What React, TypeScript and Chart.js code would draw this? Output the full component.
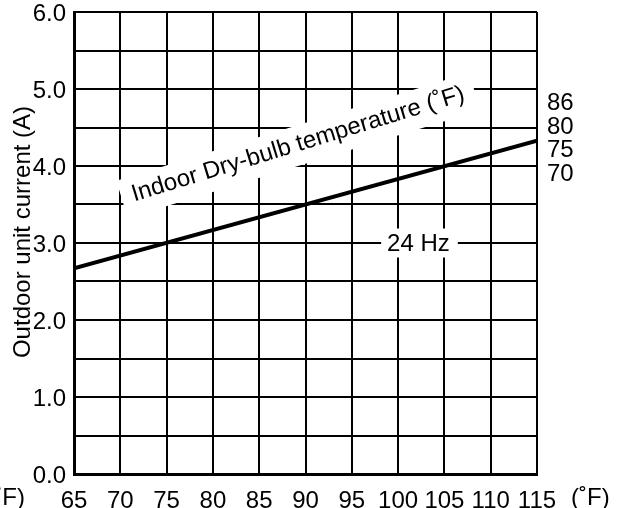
import React, { useEffect, useRef } from 'react';
import { Chart, registerables } from 'chart.js';

Chart.register(...registerables);

// Data
const outdoorTempF = [65, 115];
const outdoorCurrentA = [2.67, 4.33];
const xMin = 65;
const xMax = 115;
const xStep = 5;
const yMin = 0;
const yMax = 6;
const yStep = 0.5;
const indoorTempLabels = ['86', '80', '75', '70'];
const indoorTempLabelValues = [4.82, 4.52, 4.21, 3.91];
const frequencyLabel = '24 Hz';
const frequencyLabelAt = [102.2, 3.0];
const curveTitle = 'Indoor Dry-bulb temperature (\u02DAF)';
const curveTitleAt = [89.2, 4.28];
const yTitle = 'Outdoor unit current (A)';
const unitLabel = '(\u02DAF)';

const FONT = '"Liberation Sans", Arial, Helvetica, sans-serif';
const FS = 24;

const annotations = {
  id: 'annotations',
  afterDatasetsDraw(chart: any) {
    const { ctx, chartArea, scales } = chart;
    const xs = scales.x;
    const ys = scales.y;
    ctx.save();
    ctx.font = `${FS}px ${FONT}`;
    ctx.fillStyle = '#000';

    // rotated curve title with white box
    {
      const cx = xs.getPixelForValue(curveTitleAt[0]);
      const cy = ys.getPixelForValue(curveTitleAt[1]);
      const ang = (-17 * Math.PI) / 180;
      ctx.save();
      ctx.translate(cx, cy);
      ctx.rotate(ang);
      const w = ctx.measureText(curveTitle).width;
      ctx.fillStyle = '#fff';
      ctx.fillRect(-w / 2 - 11, -18.5, w + 22, 39);
      ctx.fillStyle = '#000';
      ctx.textAlign = 'center';
      ctx.textBaseline = 'middle';
      ctx.fillText(curveTitle, 0, 0);
      ctx.restore();
    }

    // 24 Hz label
    {
      const cx = xs.getPixelForValue(frequencyLabelAt[0]);
      const cy = ys.getPixelForValue(frequencyLabelAt[1]);
      const w = ctx.measureText(frequencyLabel).width;
      ctx.fillStyle = '#fff';
      ctx.fillRect(cx - w / 2 - 6, cy - 14.5, w + 14, 29);
      ctx.fillStyle = '#000';
      ctx.textAlign = 'center';
      ctx.textBaseline = 'middle';
      ctx.fillText(frequencyLabel, cx, cy + 1);
    }

    // right side indoor temperature labels
    ctx.textAlign = 'left';
    ctx.textBaseline = 'middle';
    indoorTempLabels.forEach((t, i) => {
      ctx.fillText(t, chartArea.right + 10, ys.getPixelForValue(indoorTempLabelValues[i]) + 1);
    });

    // unit labels
    const unitY = chartArea.bottom + 24;
    ctx.fillText(unitLabel, chartArea.right + 34, unitY);
    ctx.textAlign = 'right';
    ctx.fillText(unitLabel, 25, unitY);

    // y title
    ctx.save();
    ctx.translate(23, (chartArea.top + chartArea.bottom) / 2 - 11);
    ctx.rotate(-Math.PI / 2);
    ctx.textAlign = 'center';
    ctx.textBaseline = 'middle';
    ctx.fillText(yTitle, 0, 0);
    ctx.restore();

    ctx.restore();
  },
};

export default function App() {
  const ref = useRef<HTMLCanvasElement>(null);

  useEffect(() => {
    document.body.style.margin = '0';
    const canvas = ref.current;
    if (!canvas) return;
    const chart = new Chart(canvas, {
      type: 'line',
      data: {
        datasets: [
          {
            data: outdoorTempF.map((x, i) => ({ x, y: outdoorCurrentA[i] })),
            borderColor: '#000',
            borderWidth: 4,
            pointRadius: 0,
            fill: false,
            tension: 0,
          },
        ],
      },
      options: {
        responsive: false,
        animation: false,
        events: [],
        layout: { padding: { top: 12, right: 80, left: 0, bottom: 0 } },
        plugins: { legend: { display: false }, tooltip: { enabled: false } },
        scales: {
          x: {
            type: 'linear',
            min: xMin,
            max: xMax,
            ticks: {
              stepSize: xStep,
              color: '#000',
              font: { family: FONT, size: FS },
              padding: 13,
              maxRotation: 0,
              autoSkip: false,
            },
            grid: { color: '#000', lineWidth: 2, drawTicks: false },
            border: { color: '#000', width: 3 },
            afterFit(scale: any) {
              scale.height = 34;
              scale.paddingLeft = 0;
              scale.paddingRight = 0;
            },
          },
          y: {
            type: 'linear',
            min: yMin,
            max: yMax,
            ticks: {
              stepSize: yStep,
              color: '#000',
              font: { family: FONT, size: FS },
              padding: 8,
              labelOffset: 2,
              autoSkip: false,
              callback: (v: any) => (Math.abs(v % 1) < 1e-9 ? Number(v).toFixed(1) : ''),
            },
            grid: { color: '#000', lineWidth: 2, drawTicks: false },
            border: { color: '#000', width: 3 },
            afterFit(scale: any) {
              scale.width = 74;
              scale.paddingTop = 0;
              scale.paddingBottom = 0;
            },
          },
        },
      },
      plugins: [annotations],
    } as any);
    return () => chart.destroy();
  }, []);

  return <canvas ref={ref} width={617} height={508} style={{ display: 'block' }} />;
}
